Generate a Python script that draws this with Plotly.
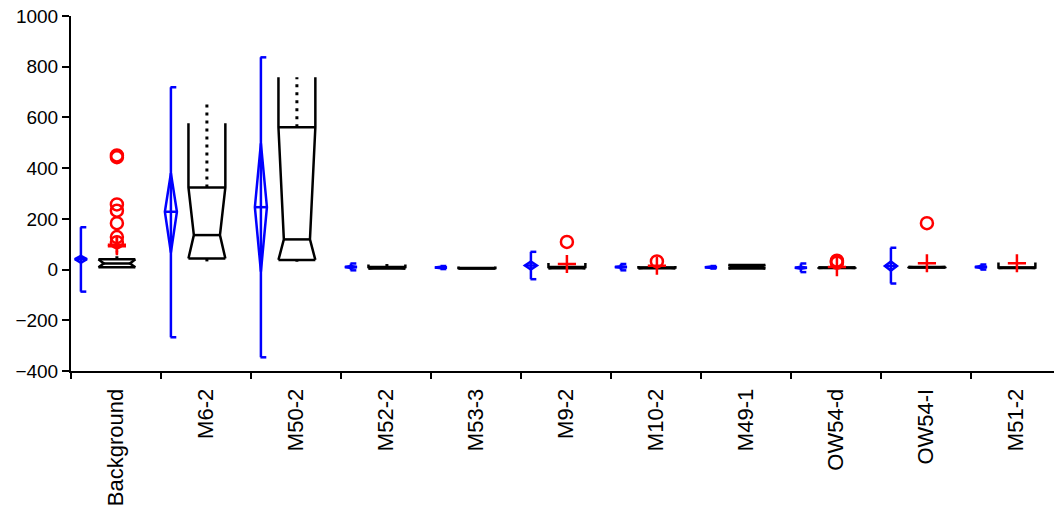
import plotly.graph_objects as go

# ---------------- data ----------------
categories = ["Background", "M6-2", "M50-2", "M52-2", "M53-3", "M9-2",
              "M10-2", "M49-1", "OW54-d", "OW54-I", "M51-2"]

# blue: mean, error bar ends, confidence interval of the mean (diamond)
mean_val = [41, 228, 246, 10, 8, 16, 10, 9, 7, 14, 10]
bar_hi   = [167, 719, 837, 24, 14, 70, 22, 14, 24, 86, 20]
bar_lo   = [-87, -267, -346, -3, 2, -38, -3, 4, -10, -55, 0]
ci_hi    = [54, 380, 498, 14, 11, 32, 13, 12, 11, 32, 14]
ci_lo    = [27, 67, -8, 6, 5, 0, 7, 6, 3, -4, 6]

# black notched boxes
box_lo    = [9, 44, 38, 4, 4, 5, 5, 4, 6, 8, 6]
box_waist = [24, 136, 119, 7, 5, 8, 7, 10, 7, 9, 7]
box_up    = [41, 324, 561, 10, 6, 10, 8, 18, 8, 10, 8]
box_top   = [41, 577, 758, 20, 12, 26, 14, 18, 9, 11, 28]
whisk_hi  = [73, 668, 758, 25, 6, 10, 8, 18, 8, 10, 8]
whisk_lo  = [9, 31, 31, 4, 4, 5, 5, 4, 6, 8, 6]

# red markers: (category index, value)
outlier_cat = [0, 0, 0, 0, 0, 0, 0, 5, 6, 8, 8, 8, 9]
outlier_val = [450, 443, 257, 232, 183, 128, 108, 109, 32, 27, 31, 35, 183]
plus_cat = [0, 0, 5, 6, 8, 9, 10]
plus_val = [98, 92, 22, 15, 10, 25, 25]

y_ticks = [-400, -200, 0, 200, 400, 600, 800, 1000]

# ---------------- layout offsets (in category units) ----------------
BLUE_DX = -0.39
CAP = 0.06
DIA = 0.067
BOX_DX = 0.01
BOX_W = 0.205
NOTCH = 0.06

bx, by = [], []   # blue lines
kx, ky = [], []   # black box lines
dx_, dy_ = [], [] # dotted whiskers

for i in range(len(categories)):
    c = i + BLUE_DX
    # error bar
    bx += [c, c, None]; by += [bar_lo[i], bar_hi[i], None]
    bx += [c - 0.005, c + CAP, None]; by += [bar_hi[i], bar_hi[i], None]
    bx += [c - 0.005, c + CAP, None]; by += [bar_lo[i], bar_lo[i], None]
    # diamond
    bx += [c, c - DIA, c, c + DIA, c, None]
    by += [ci_hi[i], mean_val[i], ci_lo[i], mean_val[i], ci_hi[i], None]
    bx += [c - DIA, c + DIA, None]; by += [mean_val[i], mean_val[i], None]

    b = i + BOX_DX
    L, R = b - BOX_W, b + BOX_W
    kx += [L, R, None]; ky += [box_lo[i], box_lo[i], None]
    kx += [L, L + NOTCH, L, L, None]
    ky += [box_lo[i], box_waist[i], box_up[i], box_top[i], None]
    kx += [R, R - NOTCH, R, R, None]
    ky += [box_lo[i], box_waist[i], box_up[i], box_top[i], None]
    kx += [L + NOTCH, R - NOTCH, None]; ky += [box_waist[i], box_waist[i], None]
    kx += [L, R, None]; ky += [box_up[i], box_up[i], None]
    if whisk_hi[i] > box_up[i]:
        dx_ += [b, b, None]; dy_ += [box_up[i], whisk_hi[i], None]
    if whisk_lo[i] < box_lo[i]:
        dx_ += [b, b, None]; dy_ += [box_lo[i], whisk_lo[i], None]

fig = go.Figure()
fig.add_trace(go.Scatter(x=bx, y=by, mode="lines",
                         line=dict(color="#0000FF", width=2.5), hoverinfo="skip"))
fig.add_trace(go.Scatter(x=kx, y=ky, mode="lines",
                         line=dict(color="black", width=2.5), hoverinfo="skip"))
fig.add_trace(go.Scatter(x=dx_, y=dy_, mode="lines",
                         line=dict(color="black", width=3, dash="3px,5px"),
                         hoverinfo="skip"))
fig.add_trace(go.Scatter(x=[c + BOX_DX for c in outlier_cat], y=outlier_val,
                         mode="markers",
                         marker=dict(symbol="circle-open", size=12, color="#FF0000",
                                     line=dict(width=2.5, color="#FF0000"))))
fig.add_trace(go.Scatter(x=[c + BOX_DX for c in plus_cat], y=plus_val,
                         mode="markers",
                         marker=dict(symbol="cross-thin-open", size=13, color="#FF0000",
                                     line=dict(width=2.5, color="#FF0000"))))

FONT = "Liberation Sans, Arial, sans-serif"
fig.update_layout(
    width=1054, height=506,
    margin=dict(l=71, r=0, t=16, b=135),
    paper_bgcolor="white", plot_bgcolor="white",
    showlegend=False,
    font=dict(family=FONT, color="black"),
    xaxis=dict(range=[-0.5, 10.422], tickmode="array",
               tickvals=list(range(len(categories))), ticktext=categories,
               tickangle=-90, ticks="", showgrid=False, zeroline=False,
               showline=True, linecolor="black", linewidth=2,
               tickfont=dict(size=22, family=FONT, color="black"),
               ticklabelstandoff=7,
               minor=dict(ticks="outside", tick0=-0.5, dtick=1, ticklen=6,
                          tickwidth=2, tickcolor="black", showgrid=False)),
    yaxis=dict(range=[-400, 1000], tickmode="array", tickvals=y_ticks,
               ticks="outside", ticklen=7, tickwidth=2, tickcolor="black",
               showgrid=False, zeroline=False, showline=True,
               linecolor="black", linewidth=2,
               tickfont=dict(size=19, family=FONT, color="black")),
)

fig.write_html("out.html")
